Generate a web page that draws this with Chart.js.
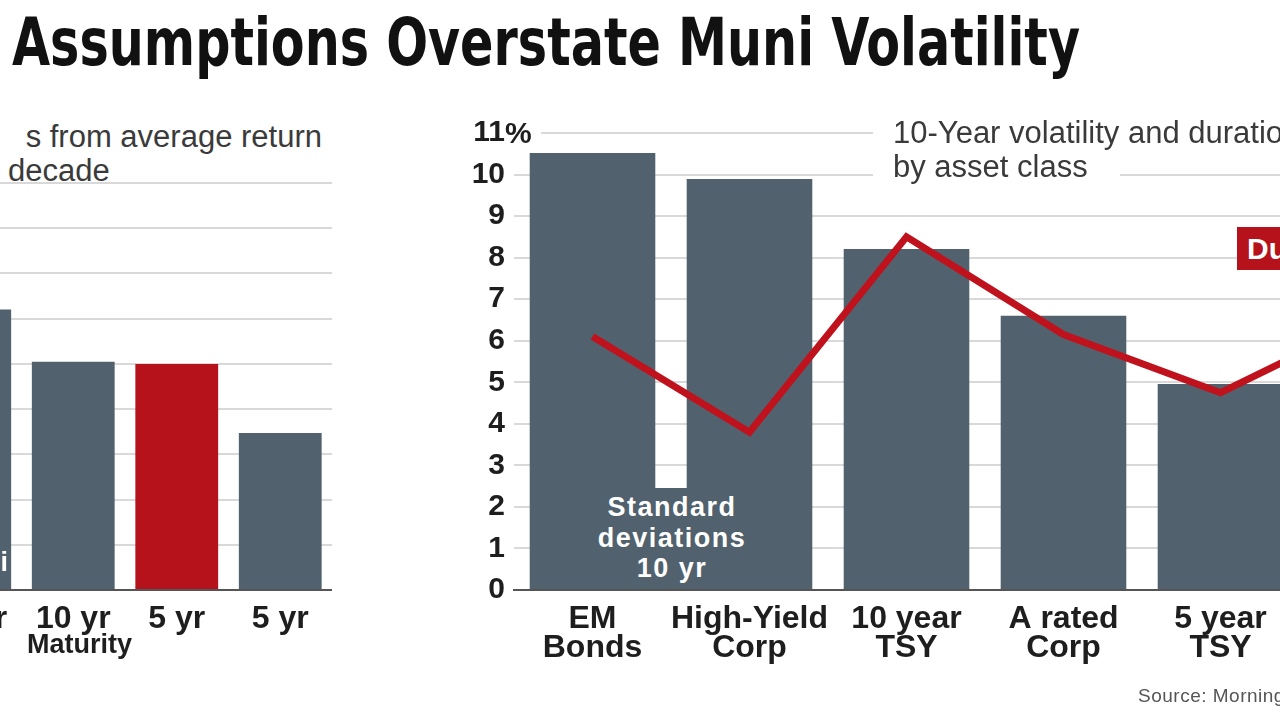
<!DOCTYPE html>
<html>
<head>
<meta charset="utf-8">
<script src="https://cdn.jsdelivr.net/npm/chart.js@4.4.1/dist/chart.umd.min.js"></script>
<style>
  html, body { margin:0; padding:0; }
  body { width:1280px; height:720px; overflow:hidden; background:#fff; position:relative;
         font-family:"Liberation Sans", Arial, Helvetica, sans-serif; }
  .abs { position:absolute; white-space:nowrap; }
  #title { left:12px; top:10px; font-family:"Liberation Sans Narrow","Arial Narrow","DejaVu Sans Condensed","Liberation Sans",sans-serif;
           font-weight:bold; font-size:66px; line-height:66px; color:#111; transform-origin:0 0; }
  .sub { font-size:31px; line-height:34px; color:#3a3a3a; }
  .sub span { display:inline-block; background:#fff; }
  #cR { left:430px; top:100px; }
  #cL { left:-82px; top:100px; }
  #stdbox { left:592px; top:488px; width:160px; height:101px; box-sizing:border-box; padding-top:4px;
            background:#51616d; color:#fff; font-weight:bold; font-size:27px; line-height:30.5px;
            letter-spacing:1.5px; text-align:center; }
  #legend { left:1237px; top:227px; height:43px; line-height:43px; padding:0 12px 0 10px;
            background:#b5121b; color:#fff; font-weight:bold; font-size:30px; }
  #pct { left:505px; top:117px; height:32px; line-height:32px; font-weight:bold; font-size:30px;
         color:#1e1e1e; background:#fff; padding-right:9px; }
  #muni { left:-55px; top:547px; line-height:30px; font-weight:bold; font-size:27px; color:#fff; }
  #maturity { left:27px; top:629px; line-height:30px; font-weight:bold; font-size:27px; color:#1e1e1e; }
  #source { left:1138px; top:684px; font-size:19px; line-height:24px; color:#555; letter-spacing:0.5px; }
</style>
</head>
<body>
<script>
// ---------- DATA ----------
const leftCategories = ["20 yr", "10 yr", "5 yr", "5 yr"];
const leftValues = [6.2, 5.05, 5.0, 3.47];
const leftMax = 9;

const rightCategories = [["EM","Bonds"], ["High-Yield","Corp"], ["10 year","TSY"], ["A rated","Corp"], ["5 year","TSY"], ""];
const volatilityValues = [10.52, 9.89, 8.21, 6.6, 4.96, null];
const durationValues = [6.1, 3.8, 8.5, 6.15, 4.75, 6.6];
const rightTicks = [0,1,2,3,4,5,6,7,8,9,10,11];
</script>

<div id="title" class="abs">Assumptions Overstate Muni Volatility</div>

<div class="abs sub" style="right:958px; top:120px;"><span style="padding-left:10px;">s from average return</span></div>
<div class="abs sub" style="left:8px; top:154px;"><span style="padding-right:22px;">decade</span></div>

<canvas id="cL" class="abs" width="414" height="600"></canvas>
<canvas id="cR" class="abs" width="1026" height="600"></canvas>

<div class="abs sub" style="left:873px; top:116px;">
  <span style="padding:0 20px;">10-Year volatility and duration</span><br>
  <span style="padding:0 32px 0 20px;">by asset class</span>
</div>

<div id="pct" class="abs">%</div>
<div id="stdbox" class="abs">Standard<br>deviations<br>10 yr</div>
<div id="legend" class="abs">Duration</div>
<div id="muni" class="abs">Muni</div>
<div id="maturity" class="abs">Maturity</div>
<div id="source" class="abs">Source: Morningstar</div>

<script>
const SLATE = '#51616d';
const RED = '#b5121b';
const GRID = '#d9d9d9';
const TICKFONT = { family: '"Liberation Sans", Arial, sans-serif', weight: 'bold', size: 32, lineHeight: 0.92 };

// title fit
(function(){
  const t = document.getElementById('title');
  const w = t.getBoundingClientRect().width;
  t.style.transform = 'scaleX(' + (1068 / w) + ')';
})();

// Left chart
new Chart(document.getElementById('cL'), {
  type: 'bar',
  data: {
    labels: leftCategories,
    datasets: [{
      data: leftValues,
      backgroundColor: [SLATE, SLATE, RED, SLATE],
      borderWidth: 0,
      barPercentage: 0.8,
      categoryPercentage: 1.0
    }]
  },
  options: {
    responsive: false, animation: false,
    layout: { padding: { top: 83, left: 0, right: 0, bottom: 0 } },
    plugins: { legend: { display: false }, tooltip: { enabled: false } },
    scales: {
      x: {
        grid: { display: false },
        border: { display: true, color: '#555', width: 2 },
        ticks: { color: '#1e1e1e', font: TICKFONT, padding: 6, maxRotation: 0, autoSkip: false },
        afterFit: s => { s.height = 110; }
      },
      y: {
        min: 0, max: leftMax,
        ticks: { display: false, stepSize: 1 },
        grid: { color: GRID, lineWidth: 2, drawTicks: false },
        border: { display: false },
        afterFit: s => { s.width = 0; }
      }
    }
  }
});

// Right chart
new Chart(document.getElementById('cR'), {
  data: {
    labels: rightCategories,
    datasets: [
      {
        type: 'line',
        label: 'Duration',
        data: durationValues,
        borderColor: '#c0121c',
        borderWidth: 7,
        pointRadius: 0,
        tension: 0,
        borderJoinStyle: 'miter',
        order: 0
      },
      {
        type: 'bar',
        label: 'Standard deviations 10 yr',
        data: volatilityValues,
        backgroundColor: SLATE,
        borderWidth: 0,
        barPercentage: 0.8,
        categoryPercentage: 1.0,
        order: 1
      }
    ]
  },
  options: {
    responsive: false, animation: false,
    layout: { padding: { top: 33, left: 0, right: 0, bottom: 0 } },
    plugins: { legend: { display: false }, tooltip: { enabled: false } },
    scales: {
      x: {
        grid: { display: false },
        border: { display: true, color: '#555', width: 2 },
        ticks: { color: '#1e1e1e', font: TICKFONT, padding: 6, maxRotation: 0, autoSkip: false },
        afterFit: s => { s.height = 110; }
      },
      y: {
        min: 0, max: 11,
        afterBuildTicks: s => { s.ticks = rightTicks.map(v => ({ value: v })); },
        ticks: { color: '#1e1e1e', font: { family: '"Liberation Sans", Arial, sans-serif', weight: 'bold', size: 30 }, padding: 9 },
        grid: { color: GRID, lineWidth: 2, drawTicks: false },
        border: { display: false },
        afterFit: s => { s.width = 84; }
      }
    }
  }
});
</script>
</body>
</html>
